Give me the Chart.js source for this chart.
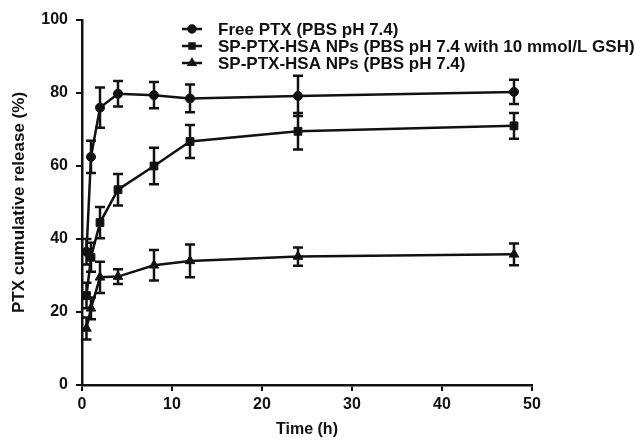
<!DOCTYPE html>
<html>
<head>
<meta charset="utf-8">
<script src="https://cdn.jsdelivr.net/npm/chart.js@4.4.1/dist/chart.umd.min.js"></script>
<style>
  html, body { margin: 0; padding: 0; background: #fff; }
  #wrap { width: 636px; height: 441px; }
</style>
</head>
<body>
<div id="wrap"><canvas id="mycanvas"></canvas></div>
<script>
// time points (h)
var times = [0.5, 1, 2, 4, 8, 12, 24, 48];

// cumulative release (%) and error (+/-)
var freePTX    = [36.5, 62.5, 76, 79.8, 79.4, 78.5, 79.2, 80.3];
var freePTXErr = [3.5, 4.4, 5.5, 3.5, 3.6, 3.8, 5.5, 3.3];

var npsGSH    = [24.5, 35, 44.5, 53.5, 60, 66.7, 69.5, 71];
var npsGSHErr = [3.5, 4, 4.3, 4.3, 5, 4.5, 5, 3.5];

var npsPBS    = [15.5, 21, 29.5, 29.7, 32.8, 34, 35.2, 35.8];
var npsPBSErr = [3, 3, 4.3, 2, 4.2, 4.5, 2.5, 3];

var seriesNames = [
  "Free PTX (PBS pH 7.4)",
  "SP-PTX-HSA NPs (PBS pH 7.4 with 10 mmol/L GSH)",
  "SP-PTX-HSA NPs (PBS pH 7.4)"
];

var xTicks = [0, 10, 20, 30, 40, 50];
var yTicks = [0, 20, 40, 60, 80, 100];

function pts(vals, errs) {
  var out = [];
  for (var i = 0; i < times.length; i++) {
    out.push({ x: times[i], y: vals[i], err: errs[i] });
  }
  return out;
}

var ink = '#111';
var FONT = "'Liberation Sans', Arial, sans-serif";

// I-shaped error bars from the data
var errorBars = {
  id: 'errorBars',
  afterDatasetsDraw: function(chart) {
    var ctx = chart.ctx;
    var xs = chart.scales.x, ys = chart.scales.y;
    ctx.save();
    ctx.strokeStyle = ink;
    ctx.lineWidth = 2.5;
    chart.data.datasets.forEach(function(ds) {
      ds.data.forEach(function(p) {
        var px = xs.getPixelForValue(p.x);
        var top = ys.getPixelForValue(p.y + p.err);
        var bot = ys.getPixelForValue(p.y - p.err);
        ctx.beginPath();
        ctx.moveTo(px, top); ctx.lineTo(px, bot);
        ctx.moveTo(px - 5, top); ctx.lineTo(px + 5, top);
        ctx.moveTo(px - 5, bot); ctx.lineTo(px + 5, bot);
        ctx.stroke();
      });
    });
    ctx.restore();
  }
};

// legend drawn inside the plot, top right, line + marker
var innerLegend = {
  id: 'innerLegend',
  afterDraw: function(chart) {
    var ctx = chart.ctx;
    var x0 = 182, x1 = 202, tx = 218;
    var rows = [29, 46, 63];
    ctx.save();
    ctx.font = "bold 17px " + FONT;
    ctx.fillStyle = ink;
    ctx.textBaseline = 'middle';
    chart.data.datasets.forEach(function(ds, i) {
      var y = rows[i];
      ctx.strokeStyle = ink;
      ctx.lineWidth = 2.5;
      ctx.beginPath();
      ctx.moveTo(x0, y); ctx.lineTo(x1, y);
      ctx.stroke();
      Chart.helpers.drawPoint(ctx, {
        pointStyle: ds.pointStyle,
        radius: 3.5,
        borderWidth: 1
      }, (x0 + x1) / 2, y);
      ctx.fillText(ds.label, tx, y + 1);
    });
    ctx.restore();
  }
};

var chartdata = {
  datasets: [
    { label: seriesNames[0], data: pts(freePTX, freePTXErr), pointStyle: 'circle', pointRadius: 4.5 },
    { label: seriesNames[1], data: pts(npsGSH, npsGSHErr), pointStyle: 'rect', pointRadius: 5.5 },
    { label: seriesNames[2], data: pts(npsPBS, npsPBSErr), pointStyle: 'triangle', pointRadius: 5.5 }
  ].map(function(d) {
    d.borderColor = ink;
    d.backgroundColor = ink;
    d.pointBackgroundColor = ink;
    d.pointBorderColor = ink;
    d.pointBorderWidth = 1;
    d.borderWidth = 2.5;
    d.tension = 0;
    d.fill = false;
    return d;
  })
};

var ctx = document.getElementById('mycanvas');
new Chart(ctx, {
  type: 'line',
  data: chartdata,
  plugins: [errorBars, innerLegend],
  options: {
    responsive: true,
    maintainAspectRatio: false,
    animation: false,
    events: [],
    layout: { padding: { top: 20, right: 104, left: 0, bottom: 0 } },
    plugins: { legend: { display: false }, tooltip: { enabled: false } },
    scales: {
      x: {
        type: 'linear', min: 0, max: 50,
        afterBuildTicks: function(s) { s.ticks = xTicks.map(function(v) { return { value: v }; }); },
        afterFit: function(s) { s.height = 56; },
        grid: { drawOnChartArea: false, drawTicks: true, tickLength: 6, color: ink, lineWidth: 2 },
        border: { color: ink, width: 2.5 },
        ticks: { color: ink, font: { family: FONT, size: 16, weight: 'bold' }, padding: 4, maxRotation: 0 },
        title: { display: true, text: 'Time (h)', color: ink, font: { family: FONT, size: 16, weight: 'bold' }, padding: { top: 0, bottom: 2 } }
      },
      y: {
        type: 'linear', min: 0, max: 100,
        afterBuildTicks: function(s) { s.ticks = yTicks.map(function(v) { return { value: v }; }); },
        afterFit: function(s) { s.width = 82; },
        grid: { drawOnChartArea: false, drawTicks: true, tickLength: 6, color: ink, lineWidth: 2 },
        border: { color: ink, width: 2.5 },
        ticks: { color: ink, font: { family: FONT, size: 16, weight: 'bold' }, padding: 8 },
        title: { display: true, text: 'PTX cumulative release (%)', color: ink, font: { family: FONT, size: 17, weight: 'bold' }, padding: { top: 9, bottom: 0 } }
      }
    }
  }
});
</script>
</body>
</html>
